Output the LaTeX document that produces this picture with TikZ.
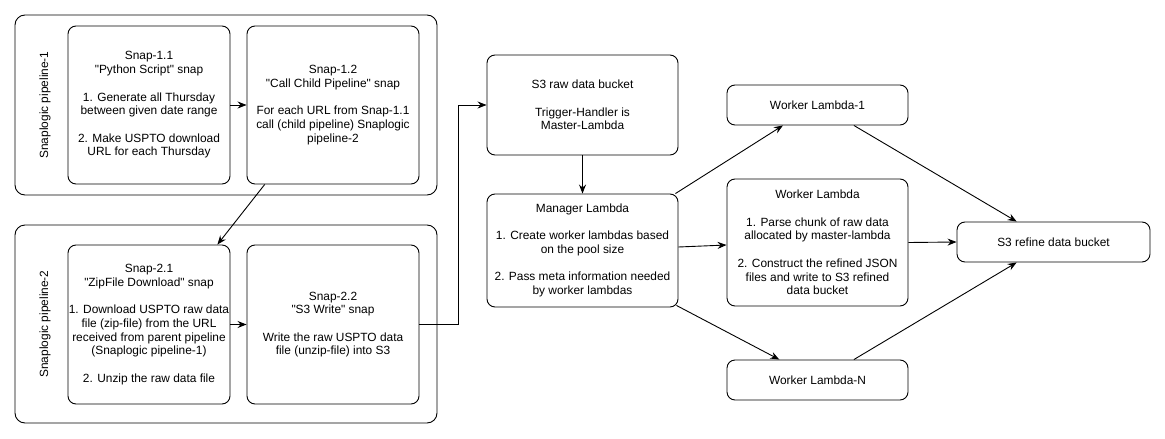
\documentclass[tikz,border=0pt]{standalone}
\usepackage{fontspec}
\setmainfont{Liberation Sans}[Ligatures=TeXOff]
\usetikzlibrary{arrows.meta,calc}
\begin{document}
\begin{tikzpicture}[x=1pt,y=-1pt,
  box/.style={draw,line width=0.9pt,rounded corners=8pt,inner sep=0pt,align=center,
    font=\fontsize{11.9}{13.7}\selectfont},
  frame/.style={draw,line width=0.9pt,rounded corners=10pt,inner sep=0pt},
  lbl/.style={rotate=90,inner sep=0pt,font=\fontsize{11.9}{13.7}\selectfont},
  arr/.style={line width=0.9pt,-{Stealth[length=9pt,width=7pt,inset=3pt]}}]
\useasboundingbox (0,0) rectangle (1165,439);
% containers
\node[frame,minimum width=422pt,minimum height=180pt] (p1) at (226,105) {};
\node[frame,minimum width=422pt,minimum height=198pt] (p2) at (226,324) {};
\node[lbl] (l1) at (45,105) {Snaplogic pipeline-1};
\node[lbl] (l2) at (45,324) {Snaplogic pipeline-2};
% snaps
\node[box,minimum width=162pt,minimum height=158pt] (s11) at (149,105)
  {Snap-1.1\\ "Python Script" snap\\[13.7pt] 1. Generate all Thursday\\ between given date range\\[13.7pt] 2. Make USPTO download\\ URL for each Thursday};
\node[box,minimum width=172pt,minimum height=158pt] (s12) at (333,105)
  {Snap-1.2\\ "Call Child Pipeline" snap\\[13.7pt] For each URL from Snap-1.1\\ call (child pipeline) Snaplogic\\ pipeline-2};
\node[box,minimum width=162pt,minimum height=159pt] (s21) at (149,324.5)
  {Snap-2.1\\ "ZipFile Download" snap\\[13.7pt] 1. Download USPTO raw data\\ file (zip-file) from the URL\\ received from parent pipeline\\ (Snaplogic pipeline-1)\\[13.7pt] 2. Unzip the raw data file};
\node[box,minimum width=172pt,minimum height=159pt] (s22) at (333,324.5)
  {Snap-2.2\\ "S3 Write" snap\\[13.7pt] Write the raw USPTO data\\ file (unzip-file) into S3};
% lambdas
\node[box,minimum width=191pt,minimum height=100pt] (raw) at (582.5,105)
  {S3 raw data bucket\\[13.7pt] Trigger-Handler is\\ Master-Lambda};
\node[box,minimum width=191pt,minimum height=113pt] (mgr) at (582.5,250.5)
  {Manager Lambda\\[13.7pt] 1. Create worker lambdas based\\ on the pool size\\[13.7pt] 2. Pass meta information needed\\ by worker lambdas};
\node[box,minimum width=181pt,minimum height=40pt] (w1) at (817.5,105) {Worker Lambda-1};
\node[box,minimum width=181pt,minimum height=127pt] (w) at (817.5,242.5)
  {Worker Lambda\\[13.7pt] 1. Parse chunk of raw data\\ allocated by master-lambda\\[13.7pt] 2. Construct the refined JSON\\ files and write to S3 refined\\ data bucket};
\node[box,minimum width=181pt,minimum height=40pt] (wn) at (817.5,380) {Worker Lambda-N};
\node[box,minimum width=193pt,minimum height=40pt] (ref) at (1053.5,242) {S3 refine data bucket};
% connectors
\draw[arr] (s11.east) -- (s12.west);
\draw[arr] ($(s12.south west)!0.105!(s12.south east)$) -- ($(s21.north west)!0.92!(s21.north east)$);
\draw[arr] (s21.east) -- (s22.west);
\draw[arr] (s22.east) -- ++(39,0) |- (raw.west);
\draw[arr] (raw.south) -- (mgr.north);
\draw[arr] ([xshift=-3pt]mgr.north east) -- ($(w1.south west)!0.31!(w1.south east)$);
\draw[arr] ([yshift=3.5pt]mgr.east) -- ([yshift=-2.5pt]w.west);
\draw[arr] ([xshift=-2pt,yshift=2pt]mgr.south east) -- ($(wn.north west)!0.29!(wn.north east)$);
\draw[arr] ($(w1.south west)!0.70!(w1.south east)$) -- ($(ref.north west)!0.31!(ref.north east)$);
\draw[arr] (w.east) -- (ref.west);
\draw[arr] ($(wn.north west)!0.70!(wn.north east)$) -- ($(ref.south west)!0.31!(ref.south east)$);
\end{tikzpicture}
\end{document}
